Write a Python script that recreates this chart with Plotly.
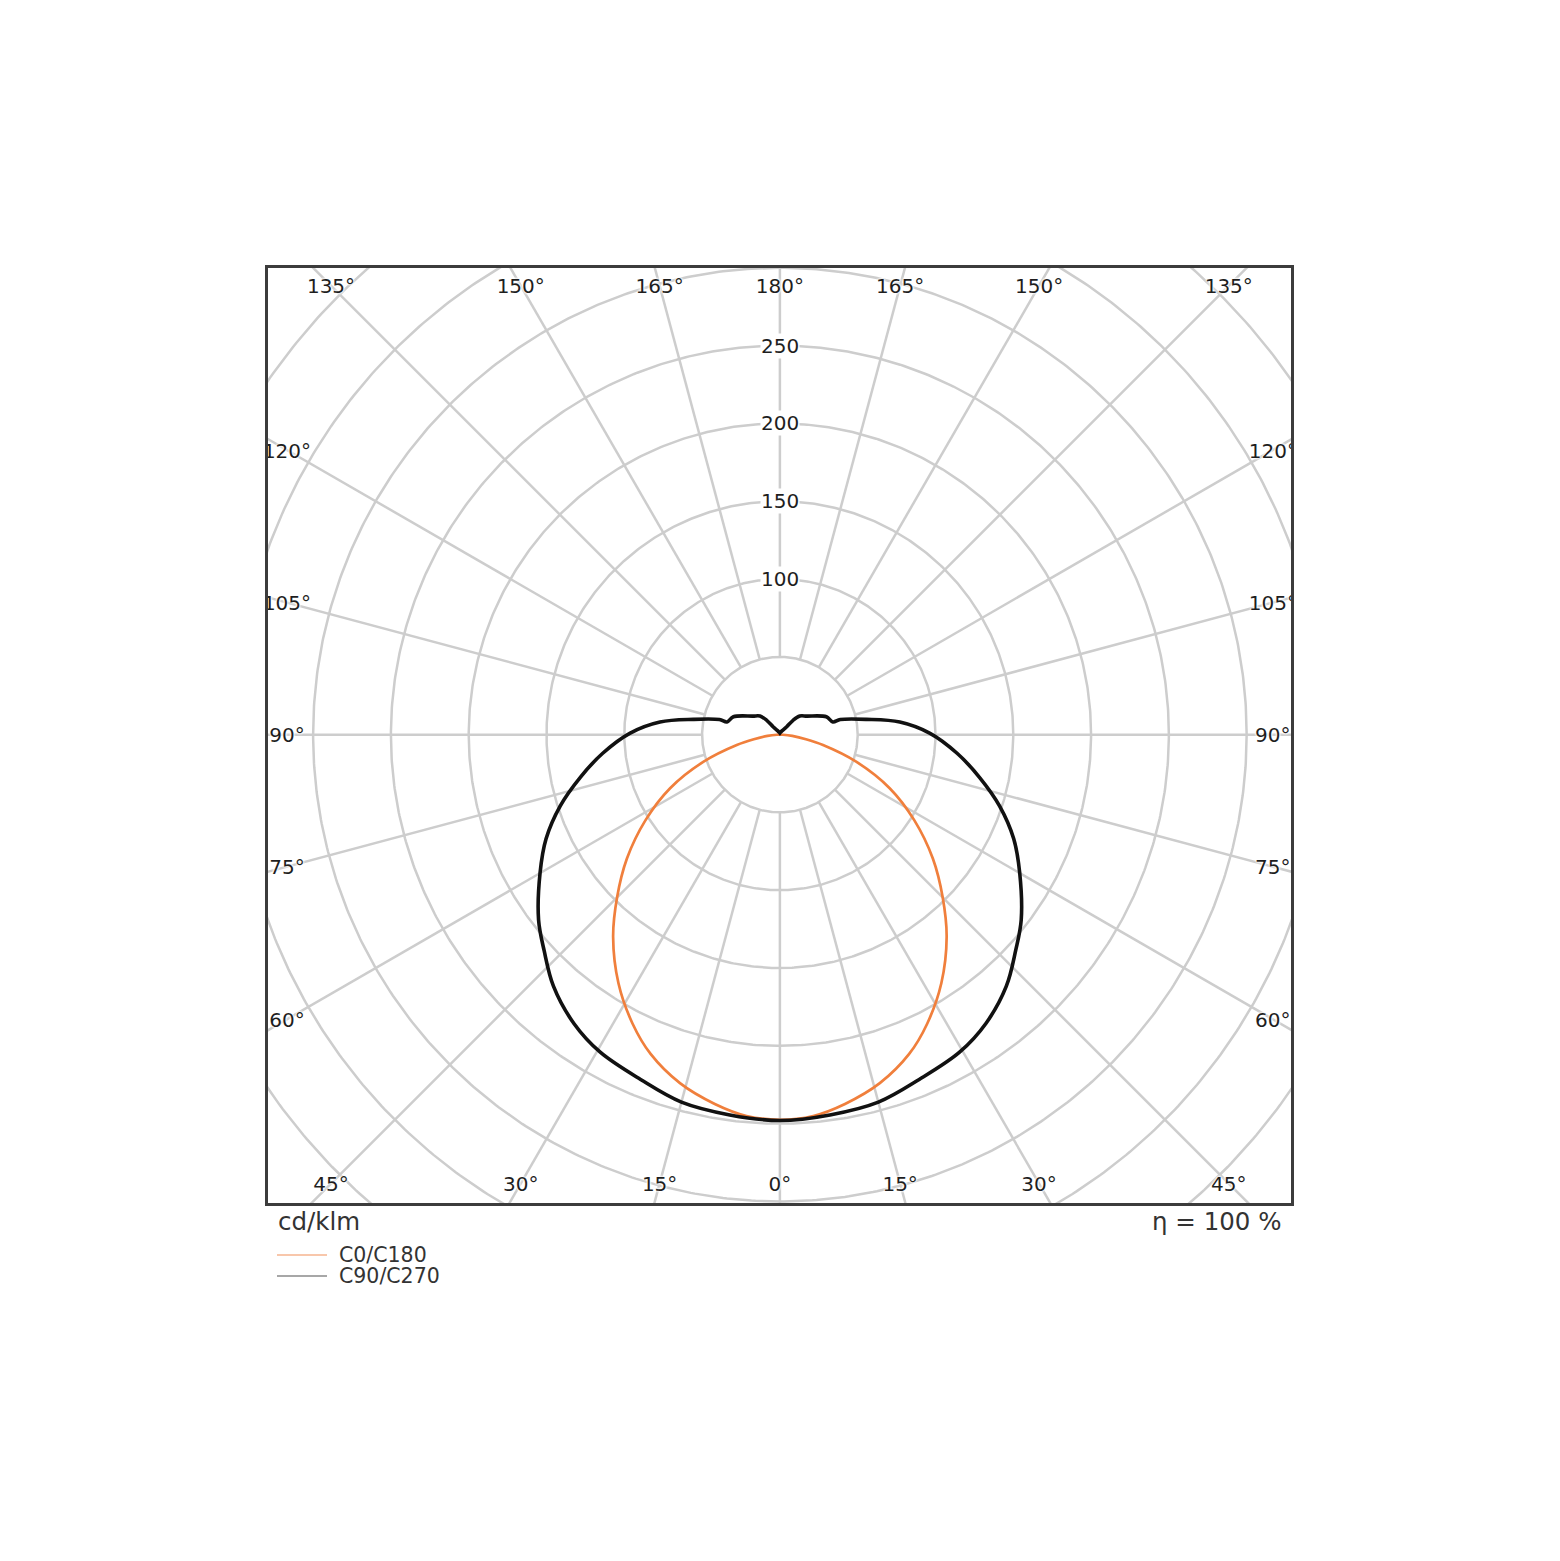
import numpy as np
import plotly.graph_objects as go

# luminous intensity, cd/klm (one half, mirrored on the left)
gamma_c0 = [0, 5, 10, 16, 22, 27, 33, 39.5, 45, 51, 57.5, 64, 70.5, 76.5, 80, 84, 88, 90, 180]
cdklm_c0 = [247.5, 246, 241, 233, 221.5, 208.5, 190.5, 168.5, 148, 126.5, 102.5, 78.5, 52, 28.5, 17, 8, 2, 0, 0]

gamma_c90 = [0, 7.5, 15, 22, 29.5, 35.5, 42, 47.5, 52.5, 60, 66, 72, 78, 84, 90.5, 96, 100,
             104, 103.5, 111, 124.5, 133, 137.5, 139.5, 150, 165, 180]
cdklm_c90 = [248, 246.5, 244.5, 239, 234.5, 228, 217.5, 205.5, 195.5, 178, 164.5, 148.5, 131, 114.5, 96.5, 77.5, 56.5,
             40, 35, 32, 21, 17.5, 12.5, 6.5, 3, 1.5, 1]

# grid
radial_ticks = [50, 100, 150, 200, 250, 300, 350, 400]
radial_labels = [100, 150, 200, 250]
angle_ticks = [0, 15, 30, 45, 60, 75, 90, 105, 120, 135, 150, 165, 180]

series_names = ['C0/C180', 'C90/C270']
series_colors = ['#f07f3c', '#111111']


def to_xy(gamma, value):
    g = np.radians(np.asarray(gamma, dtype=float))
    r = np.asarray(value, dtype=float)
    return r * np.sin(g), -r * np.cos(g)


def full_curve(gamma, value):
    # right half (C0 / C90) then the mirrored left half (C180 / C270)
    x, y = to_xy(gamma, value)
    return np.concatenate([x, -x[::-1]]), np.concatenate([y, y[::-1]])


fig = go.Figure()

# circles
cx, cy = [], []
t = np.linspace(0, 2 * np.pi, 721)
for r in radial_ticks:
    cx += list(r * np.cos(t)) + [None]
    cy += list(r * np.sin(t)) + [None]
fig.add_trace(go.Scatter(x=cx, y=cy, mode='lines', hoverinfo='skip',
                         line=dict(color='#cdcdcd', width=2.5)))

# spokes, starting from the first circle
sx, sy = [], []
for g in range(0, 360, 15):
    x, y = to_xy([g, g], [radial_ticks[0], 460])
    sx += list(x) + [None]
    sy += list(y) + [None]
fig.add_trace(go.Scatter(x=sx, y=sy, mode='lines', hoverinfo='skip',
                         line=dict(color='#cdcdcd', width=2.5)))

# curves
for gam, val, name, col, w in [(gamma_c0, cdklm_c0, series_names[0], series_colors[0], 2.7),
                               (gamma_c90, cdklm_c90, series_names[1], series_colors[1], 3.6)]:
    x, y = full_curve(gam, val)
    fig.add_trace(go.Scatter(x=x, y=y, mode='lines', name=name,
                             line=dict(color=col, width=w, shape='spline', smoothing=1.0)))

# angle labels along the inside of the frame
half_w, half_h = 316.8, 288.5
lx, ly, lt = [], [], []
for g in angle_ticks:
    s, c = np.sin(np.radians(g)), np.cos(np.radians(g))
    d = min(half_w / abs(s) if abs(s) > 1e-9 else 1e9, half_h / abs(c) if abs(c) > 1e-9 else 1e9)
    for sign in ([1] if g in (0, 180) else [1, -1]):
        lx.append(sign * d * s)
        ly.append(-d * c - 1.6)  # text sits a touch low in the original
        lt.append(f'{g}°')
fig.add_trace(go.Scatter(x=lx, y=ly, mode='text', text=lt, hoverinfo='skip', cliponaxis=True,
                         textfont=dict(family='DejaVu Sans', size=20, color='#1e1e1e',
                                       shadow='white 0 0 2px, white 0 0 2px, white 0 0 3px, white 0 0 3px')))

for r in radial_labels:
    fig.add_annotation(x=0, y=r, text=str(r), showarrow=False, bgcolor='white', borderpad=0,
                       font=dict(family='DejaVu Sans', size=20, color='#1e1e1e'))

# texts under the frame
fig.add_annotation(xref='paper', yref='paper', x=0.0078, y=-0.0193, xanchor='left', yanchor='middle',
                   text='cd/klm', showarrow=False, font=dict(family='DejaVu Sans', size=24.5, color='#333'))
fig.add_annotation(xref='paper', yref='paper', x=0.992, y=-0.0193, xanchor='right', yanchor='middle',
                   text='η = 100 %', showarrow=False, font=dict(family='DejaVu Sans', size=24.5, color='#333'))

# hand-made legend
legend_line_colors = ['#f6b48f', '#8a8a8a']
for i, name in enumerate(series_names):
    yy = -0.0556 - i * 0.0225
    fig.add_shape(type='line', xref='paper', yref='paper', x0=0.0088, x1=0.0577, y0=yy, y1=yy,
                  line=dict(color=legend_line_colors[i], width=1.5))
    fig.add_annotation(xref='paper', yref='paper', x=0.0674, y=yy, xanchor='left', yanchor='middle',
                       text=name, showarrow=False, font=dict(family='DejaVu Sans', size=20.5, color='#333'))

axis_style = dict(showgrid=False, zeroline=False, showticklabels=False, ticks='',
                  showline=True, mirror=True, linecolor='#3c3c3c', linewidth=3, fixedrange=True)
fig.update_xaxes(range=[-329, 328.5], **axis_style)
fig.update_yaxes(range=[-301, 299.9], **axis_style)

# page body has an 8 px margin, so the figure is a bit smaller than the window
fig.update_layout(width=1544, height=1545, showlegend=False,
                  margin=dict(l=260, r=261, t=260, b=350),
                  plot_bgcolor='white', paper_bgcolor='white')

fig.write_html('out.html')
